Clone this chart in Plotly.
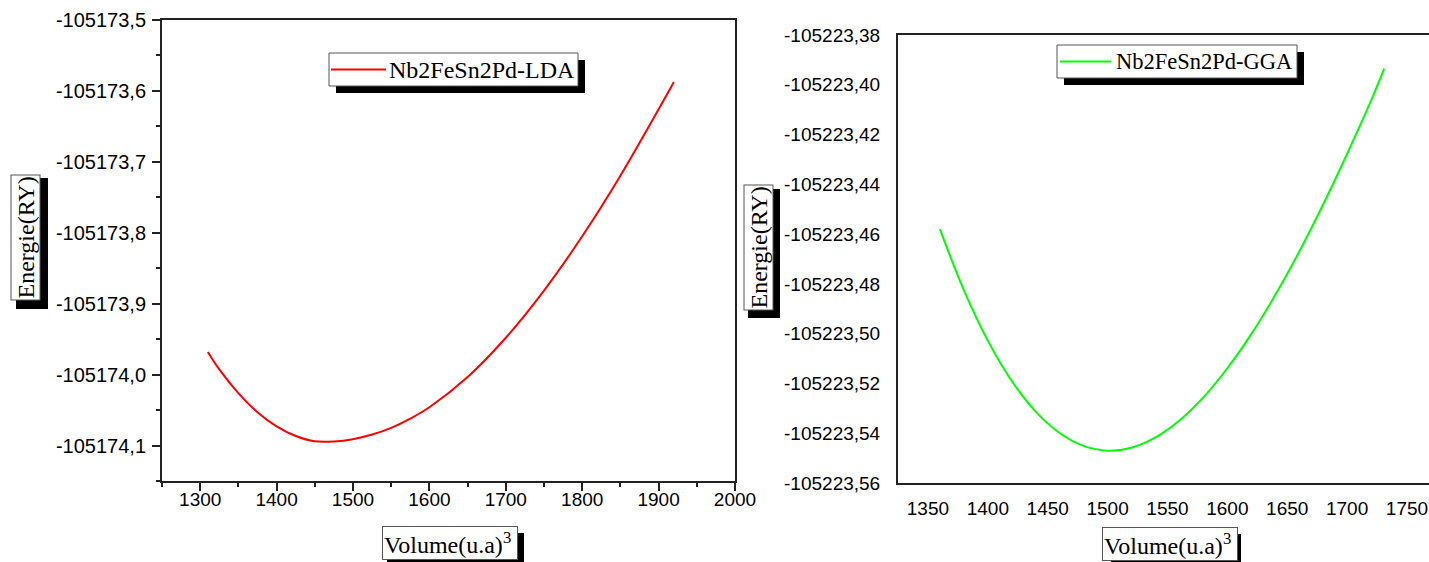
import plotly.graph_objects as go

# ---------------- data ----------------
lda_volume = [1310, 1325, 1350, 1375, 1400, 1425, 1450, 1475, 1500, 1525, 1550,
              1575, 1600, 1650, 1700, 1750, 1800, 1850, 1900, 1920]
lda_energy = [-105173.9680, -105173.9925, -105174.0260, -105174.0530, -105174.0730,
              -105174.0865, -105174.0940, -105174.0942, -105174.0910, -105174.0845,
              -105174.0750, -105174.0620, -105174.0460, -105174.0035, -105173.9480,
              -105173.8815, -105173.8050, -105173.7195, -105173.6260, -105173.5875]

gga_volume = [1360, 1380, 1400, 1420, 1440, 1460, 1480, 1500, 1520, 1540, 1560,
              1580, 1600, 1620, 1640, 1660, 1680, 1700, 1720, 1731]
gga_energy = [-105223.4580, -105223.4825, -105223.5028, -105223.5190, -105223.5313,
              -105223.5399, -105223.5451, -105223.5470, -105223.5458, -105223.5417,
              -105223.5349, -105223.5256, -105223.5139, -105223.5002, -105223.4845,
              -105223.4671, -105223.4481, -105223.4278, -105223.4064, -105223.3935]

lda_xticks = [1300, 1400, 1500, 1600, 1700, 1800, 1900, 2000]
lda_yticks = [-105174.1, -105174.0, -105173.9, -105173.8, -105173.7, -105173.6, -105173.5]
lda_yticktext = ["-105174,1", "-105174,0", "-105173,9", "-105173,8", "-105173,7",
                 "-105173,6", "-105173,5"]

gga_xticks = [1350, 1400, 1450, 1500, 1550, 1600, 1650, 1700, 1750]
gga_yticks = [-105223.56, -105223.54, -105223.52, -105223.50, -105223.48,
              -105223.46, -105223.44, -105223.42, -105223.40, -105223.38]
gga_yticktext = ["-105223,56", "-105223,54", "-105223,52", "-105223,50", "-105223,48",
                 "-105223,46", "-105223,44", "-105223,42", "-105223,40", "-105223,38"]

lda_name = "Nb2FeSn2Pd-LDA"
gga_name = "Nb2FeSn2Pd-GGA"
lda_color = "#ff0000"
gga_color = "#00ff00"
y_title = "Energie(RY)"
x_title = "Volume(u.a)<sup>3</sup>\u2009"

# ---------------- figure ----------------
W, H = 1429, 562
AX = "#222222"
SANS = "Liberation Sans, Arial, sans-serif"
TICKFONT = dict(family=SANS, size=19, color="black")
SERIF = "Liberation Serif, Times New Roman, serif"


def px(x):
    return x / W


def py(y):
    return 1 - y / H


fig = go.Figure()
fig.add_trace(go.Scatter(x=lda_volume, y=lda_energy, mode="lines", name=lda_name,
                         line=dict(color=lda_color, width=2, shape="spline"),
                         xaxis="x", yaxis="y", showlegend=False))
fig.add_trace(go.Scatter(x=gga_volume, y=gga_energy, mode="lines", name=gga_name,
                         line=dict(color=gga_color, width=2, shape="spline"),
                         xaxis="x2", yaxis="y2", showlegend=False))

common = dict(showgrid=False, zeroline=False, showline=True, linecolor=AX, linewidth=2,
              automargin=False)

fig.update_layout(
    template="none",
    width=W, height=H, margin=dict(l=0, r=0, t=0, b=0, pad=0),
    paper_bgcolor="white", plot_bgcolor="white",
    showlegend=False,
    xaxis=dict(domain=[px(162), px(735)], range=[1250, 2000], anchor="y",
               tickmode="array", tickvals=lda_xticks, ticks="outside", ticklen=8,
               tickwidth=1.5, tickcolor=AX, mirror=True, ticklabelstandoff=-8,
               tickfont=TICKFONT,
               minor=dict(ticks="outside", ticklen=4, tickwidth=1.5, tickcolor=AX,
                          tickmode="linear", tick0=1250, dtick=50, showgrid=False),
               **common),
    yaxis=dict(domain=[py(481), py(20)], range=[-105174.15, -105173.5], anchor="x",
               tickmode="array", tickvals=lda_yticks, ticktext=lda_yticktext,
               ticks="outside", ticklen=8, tickwidth=1.5, tickcolor=AX, mirror=True,
               tickfont=dict(family=SANS, size=20, color="black"), ticklabelstandoff=2,
               minor=dict(ticks="outside", ticklen=4, tickwidth=1.5, tickcolor=AX,
                          tickmode="linear", tick0=-105174.15, dtick=0.05, showgrid=False),
               **common),
    xaxis2=dict(domain=[px(898), 1.0], range=[1325, 1768.4], anchor="y2",
                tickmode="array", tickvals=gga_xticks, ticks="outside", ticklen=7,
                tickcolor="rgba(0,0,0,0)", mirror=True, tickfont=TICKFONT, **common),
    yaxis2=dict(domain=[py(483), py(35)], range=[-105223.56, -105223.38], anchor="x2",
                tickmode="array", tickvals=gga_yticks, ticktext=gga_yticktext,
                ticks="outside", ticklen=12, tickcolor="rgba(0,0,0,0)", mirror=False,
                tickfont=TICKFONT, **common),
)


def rect(x0, y0, x1, y1, fill, line_color=None):
    fig.add_shape(type="rect", xref="paper", yref="paper", x0=px(x0), x1=px(x1),
                  y0=py(y1), y1=py(y0), fillcolor=fill,
                  line=dict(width=1 if line_color else 0, color=line_color or fill),
                  layer="above")


def legend_box(box, sample, text_x, name, color, size):
    x0, y0, x1, y1 = box
    rect(x0 + 7, y0 + 7, x1 + 7, y1 + 7, "black")          # shadow
    rect(x0, y0, x1, y1, "white", "#555555")                # frame
    sx0, sx1 = sample
    yc = (y0 + y1) / 2
    fig.add_shape(type="line", xref="paper", yref="paper", x0=px(sx0), x1=px(sx1),
                  y0=py(yc), y1=py(yc), line=dict(color=color, width=2), layer="above")
    fig.add_annotation(text=name, xref="paper", yref="paper", x=px(text_x), y=py(yc),
                       xanchor="left", yanchor="middle", showarrow=False,
                       font=dict(family=SERIF, size=size, color="black"))


legend_box((329, 53, 578, 86), (331, 386), 387, lda_name, lda_color, 24)
legend_box((1057, 45, 1297, 78), (1060, 1111), 1114, gga_name, gga_color, 22.5)


def boxed_title(text, box, angle):
    x0, y0, x1, y1 = box
    rect(x0 + 6, y0 + 6, x1 + 6, y1 + 6, "black")           # shadow
    fig.add_annotation(text=text, xref="paper", yref="paper",
                       x=px((x0 + x1) / 2), y=py((y0 + y1) / 2),
                       xanchor="center", yanchor="middle", showarrow=False,
                       textangle=angle, bgcolor="white", bordercolor="#555555",
                       borderwidth=1, borderpad=1,
                       font=dict(family=SERIF, size=24, color="black"))


boxed_title(y_title, (10, 172, 42, 303), -90)
boxed_title(y_title, (742, 183, 774, 312), -90)
boxed_title(x_title, (381, 527, 518, 559), 0)
boxed_title(x_title, (1105, 528, 1235, 560), 0)

fig.write_html("out.html")
